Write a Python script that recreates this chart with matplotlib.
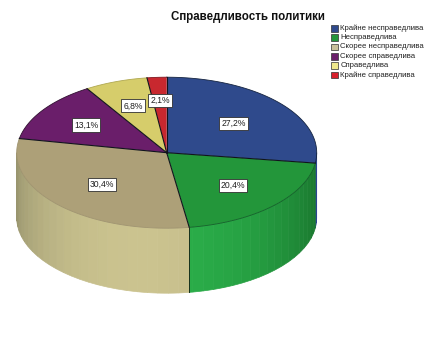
#!/usr/bin/python
import numpy as np
import matplotlib
matplotlib.use('Agg')
import matplotlib.pyplot as plt
from matplotlib.colors import to_rgb

title = 'Справедливость политики'
categories = ['Крайне несправедлива', 'Несправедлива', 'Скорее несправедлива',
              'Скорее справедлива', 'Справедлива', 'Крайне справедлива']
values = [27.2, 20.4, 30.4, 13.1, 6.8, 2.1]
value_labels = ['27,2%', '20,4%', '30,4%', '13,1%', '6,8%', '2,1%']

top_colors = ['#2f4a8c', '#23963a', '#ada078', '#6a1e6a', '#d6cd6b', '#c8282f']
wall_dark = ['#2a4490', '#1b7a30', '#8f8c68', '#5a1a5a', '#b0a850', '#a02028']
wall_light = ['#3450a0', '#2bb04a', '#cbc38f', '#6a1e6a', '#d6cd6b', '#c8282f']
rim_colors = ['#152440', '#14602a', '#a09470', '#301030', '#b0a850', '#801820']
legend_colors = ['#2f4a8c', '#23963a', '#c8c09a', '#6a1e6a', '#f0ea8c', '#d8202c']

# pie geometry in pixels
cx, cy = 166.7, 152.7
rx, ry = 150.0, 75.5
depth = 65.0
label_r = [0.59, 0.62, 0.60, 0.65, 0.66, 0.69]


def ell(a):
    # a in degrees clockwise from top
    t = np.radians(a)
    return cx + rx * np.sin(t), cy - ry * np.cos(t)


plt.rcParams['font.family'] = ['Liberation Sans', 'DejaVu Sans']
fig = plt.figure(figsize=(4.4, 3.53), dpi=100)
ax = fig.add_axes([0, 0, 1, 1])
ax.set_xlim(0, 440)
ax.set_ylim(353, 0)
ax.axis('off')

edges = np.cumsum([0] + values) / sum(values) * 360.0

# side wall, only the front half shows
for i in range(len(values)):
    a0, a1 = max(edges[i], 90.0), min(edges[i + 1], 270.0)
    if a1 <= a0:
        continue
    steps = np.arange(a0, a1 + 4.0, 4.0)
    steps[-1] = a1
    dark, light = np.array(to_rgb(wall_dark[i])), np.array(to_rgb(wall_light[i]))
    for s0, s1 in zip(steps[:-1], steps[1:]):
        mid = 0.5 * (s0 + s1)
        # brightest towards the lower left of the wall
        k = np.clip(np.cos(np.radians(mid - 190.0)), 0, 1) ** 1.2
        sub = np.linspace(s0, s1, 6)
        x, y = ell(sub)
        ax.fill(np.r_[x, x[::-1]], np.r_[y, y[::-1] + depth],
                color=dark + (light - dark) * k, lw=0.5, zorder=1)

# divider on the wall between green and beige
xd, yd = ell(edges[2])
ax.plot([xd, xd], [yd, yd + depth], color='#14301c', lw=0.7, zorder=2)

# top face
for i in range(len(values)):
    a = np.linspace(edges[i], edges[i + 1], 80)
    xs, ys = ell(a)
    ax.fill(np.r_[cx, xs], np.r_[cy, ys], facecolor=top_colors[i], lw=0, zorder=3)
    ax.plot(xs, ys, color=rim_colors[i], lw=0.6, zorder=3.2)
for e in edges[:-1]:
    xe, ye = ell(e)
    ax.plot([cx, xe], [cy, ye], color='#10141c', lw=0.8, zorder=3.5)

for i in range(len(values)):
    m = np.radians(0.5 * (edges[i] + edges[i + 1]))
    ax.text(cx + rx * label_r[i] * np.sin(m), cy - ry * label_r[i] * np.cos(m),
            value_labels[i], fontsize=6.2, ha='center', va='center', color='#202020',
            zorder=5, bbox=dict(facecolor='white', edgecolor='#303030', lw=0.6, pad=1.5))

ax.text(248, 17, title, fontsize=8.3, fontweight='bold', ha='center', va='center', color='#111111')

# legend
for i, name in enumerate(categories):
    y = 28.2 + i * 9.35
    ax.fill([331, 338, 338, 331], [y - 3.3, y - 3.3, y + 3.3, y + 3.3],
            facecolor=legend_colors[i], edgecolor='#303030', lw=0.5)
    ax.text(340.5, y, name, fontsize=5.55, ha='left', va='center', color='#222222')

fig.savefig('out.png', dpi=100, facecolor='white')
